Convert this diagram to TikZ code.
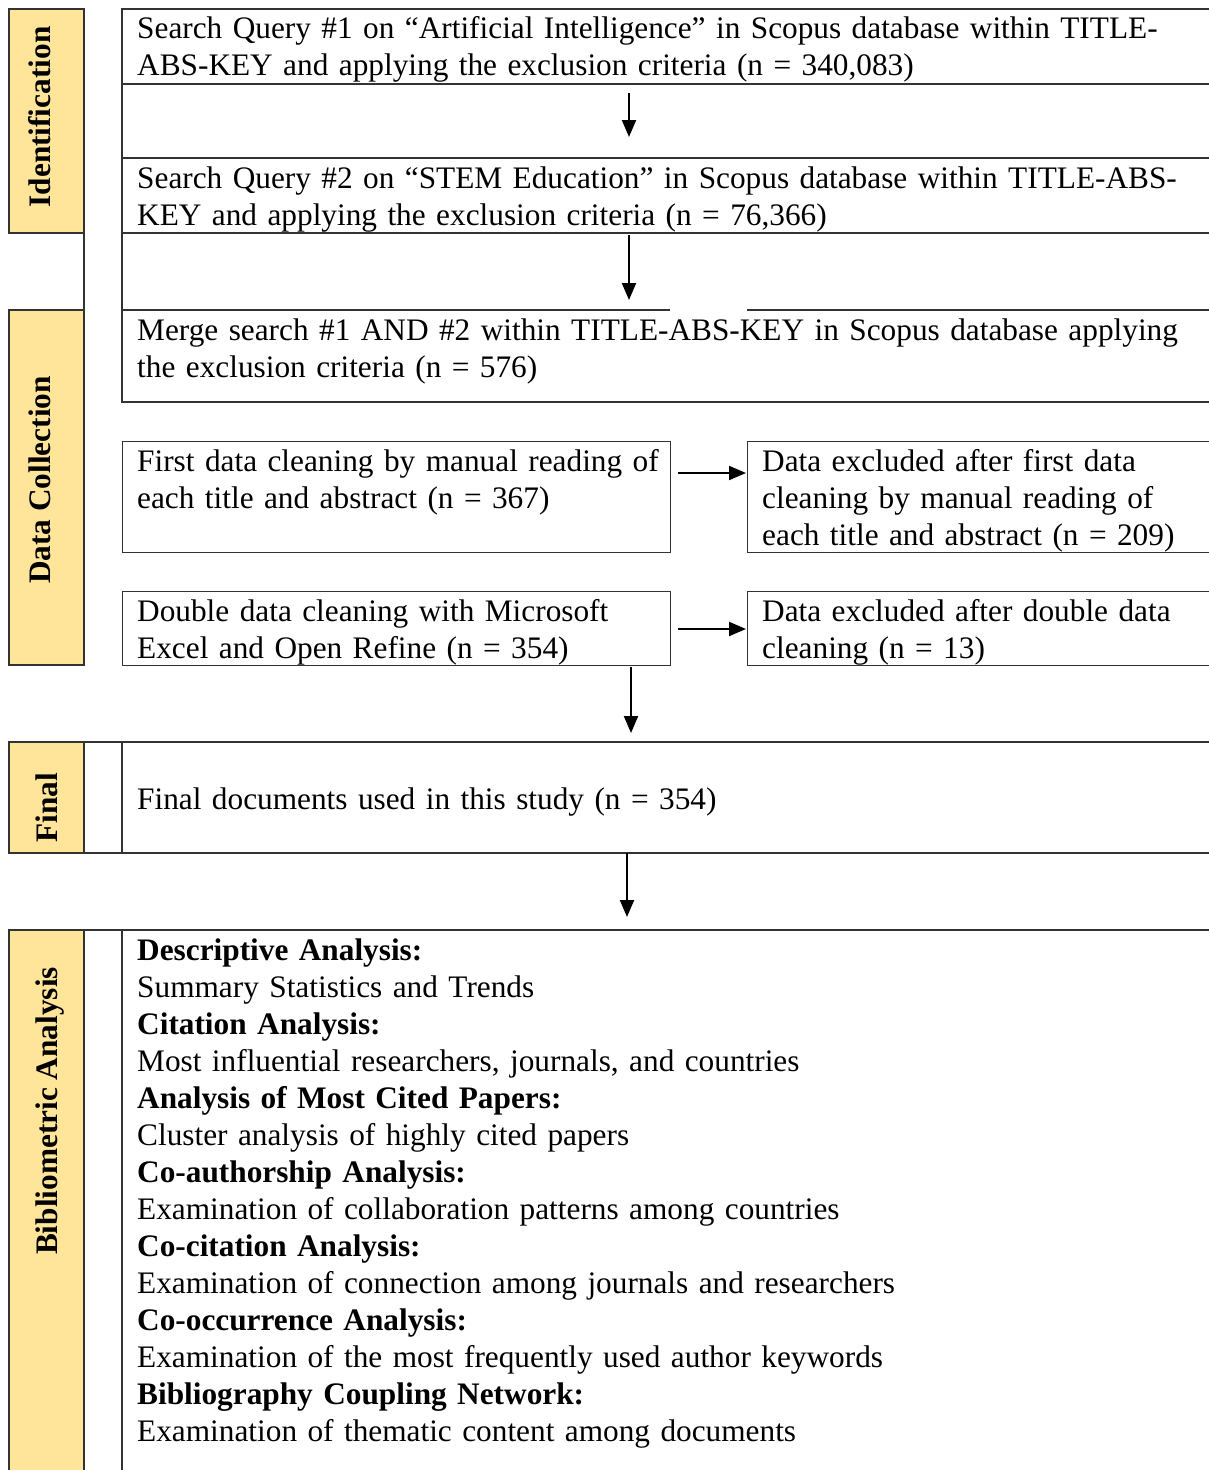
\documentclass[tikz,border=0pt]{standalone}
\usepackage{fontspec}
\setmainfont{Liberation Serif}
\usetikzlibrary{arrows.meta}
\definecolor{stagefill}{HTML}{FFE599}

\begin{document}
\begin{tikzpicture}[
  x=1pt, y=-1pt,
  font=\fontsize{31.3}{37}\selectfont,
  >={Triangle[length=17pt,width=14pt]},
  rule/.style={draw=black!80, line width=1.2pt},
  stage/.style={rule, fill=stagefill},
  stagelab/.style={rotate=90, anchor=base, inner sep=0pt, font=\fontsize{31.3}{37}\selectfont\bfseries},
  box/.style={rule, anchor=north west, inner sep=0pt},
  txt/.style={anchor=base west, inner sep=0pt, text width=#1, align=left},
  txt/.default=1065pt,
  flow/.style={->, line width=2pt}
]
\path[use as bounding box] (0,0) rectangle (1208,1470);

\path[stage] (9,9) rectangle (84,233);
\draw[rule] (84,233) -- (84,310);
\path[stage] (9,310) rectangle (84,665);
\path[stage] (9,742) rectangle (84,853);
\path[stage] (9,930) rectangle (84,1480);

\node[stagelab] (ident) at (50,117) {Identification};
\node[stagelab] (collect) at (50,480) {Data Collection};
\node[stagelab] (final) at (57,808) {Final};
\node[stagelab] (biblio) at (57,1111) {Bibliometric Analysis};

\draw[rule] (122,9) rectangle (1214,84);
\draw[rule] (122,84) rectangle (1214,158);
\draw[rule] (122,158) rectangle (1214,233);
\draw[rule] (122,233) -- (122,402) -- (1214,402);
\draw[rule] (122,310) -- (670,310) (747,310) -- (1214,310);

\node[box, minimum width=548, minimum height=111] (cleanA) at (122,441) {};
\node[box, minimum width=467, minimum height=111] (dropA) at (747,441) {};
\node[box, minimum width=548, minimum height=74] (cleanB) at (122,591) {};
\node[box, minimum width=467, minimum height=74] (dropB) at (747,591) {};

\draw[rule] (84,742) -- (1214,742) (84,853) -- (1214,853)
  (84,742) -- (84,853) (122,742) -- (122,853);
\draw[rule] (84,930) -- (1214,930) (122,930) -- (122,1480);

\node[txt] (q1) at (137,38) {Search Query \#1 on “Artificial Intelligence” in Scopus database within TITLE-\\ABS-KEY and applying the exclusion criteria (n = 340,083)};
\node[txt] (q2) at (137,188) {Search Query \#2 on “STEM Education” in Scopus database within TITLE-ABS-\\KEY and applying the exclusion criteria (n = 76,366)};
\node[txt] (merge) at (137,340) {Merge search \#1 AND \#2 within TITLE-ABS-KEY in Scopus database applying\\the exclusion criteria (n = 576)};
\node[txt=530pt] (cleanAt) at ([shift={(15,30)}]cleanA.north west) {First data cleaning by manual reading of\\each title and abstract (n = 367)};
\node[txt=440pt] (dropAt) at ([shift={(15,30)}]dropA.north west) {Data excluded after first data\\cleaning by manual reading of\\each title and abstract (n = 209)};
\node[txt=530pt] (cleanBt) at ([shift={(15,30)}]cleanB.north west) {Double data cleaning with Microsoft\\Excel and Open Refine (n = 354)};
\node[txt=440pt] (dropBt) at ([shift={(15,30)}]dropB.north west) {Data excluded after double data\\cleaning (n = 13)};
\node[txt] (done) at (137,809) {Final documents used in this study (n = 354)};
\node[txt] (steps) at (137,960) {\textbf{Descriptive Analysis:}\\
  Summary Statistics and Trends\\
  \textbf{Citation Analysis:}\\
  Most influential researchers, journals, and countries\\
  \textbf{Analysis of Most Cited Papers:}\\
  Cluster analysis of highly cited papers\\
  \textbf{Co-authorship Analysis:}\\
  Examination of collaboration patterns among countries\\
  \textbf{Co-citation Analysis:}\\
  Examination of connection among journals and researchers\\
  \textbf{Co-occurrence Analysis:}\\
  Examination of the most frequently used author keywords\\
  \textbf{Bibliography Coupling Network:}\\
  Examination of thematic content among documents};

\coordinate (g1a) at (629,93);
\coordinate (g1b) at (629,137);
\coordinate (g2a) at (629,235);
\coordinate (g2b) at (629,300);
\coordinate (g3a) at (631,667);
\coordinate (g3b) at (631,733);
\coordinate (g4a) at (627,853);
\coordinate (g4b) at (627,917);

\draw[flow] (g1a) -- (g1b);
\draw[flow] (g2a) -- (g2b);
\draw[flow] ([shift={(7,32)}]cleanA.north east) -- ([shift={(-1,32)}]dropA.north west);
\draw[flow] ([shift={(7,38)}]cleanB.north east) -- ([shift={(-1,38)}]dropB.north west);
\draw[flow] (g3a) -- (g3b);
\draw[flow] (g4a) -- (g4b);
\end{tikzpicture}
\end{document}
